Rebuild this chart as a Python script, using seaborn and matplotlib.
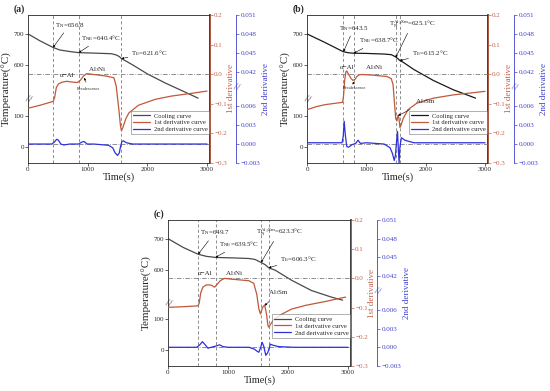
import numpy as np
import matplotlib
matplotlib.use("Agg")
import matplotlib.pyplot as plt
import matplotlib.transforms as mtransforms
import seaborn as sns

sns.set_theme(style="ticks")
plt.rcParams['font.family'] = ['Liberation Serif', 'DejaVu Serif']
plt.rcParams['mathtext.fontset'] = 'stix'

# ---------------- data ----------------
# (a)
a_cool_t = [0, 200, 420, 530, 700, 850, 1100, 1400, 1480, 1530, 1566, 1620, 1750, 2000, 2300, 2600, 2850]
a_cool_T = [700, 678, 657, 649, 644, 640.4, 639, 637, 633, 628, 621.6, 616, 602, 573, 544, 518, 496]
a_d1_t = [0, 200, 420, 445, 475, 510, 570, 650, 760, 830, 880, 930, 985, 1100, 1300, 1440,
          1478, 1522, 1550, 1566, 1590, 1640, 1690, 1850, 2130, 2400, 2730, 3000]
a_d1 = [-0.115, -0.105, -0.092, -0.08, -0.045, -0.033, -0.027, -0.024, -0.027, -0.028, -0.02,
        -0.006, 0.002, -0.001, -0.006, -0.012, -0.04, -0.118, -0.175, -0.191, -0.18, -0.15,
        -0.131, -0.105, -0.085, -0.074, -0.065, -0.057]
a_d2_t = [0, 400, 440, 480, 510, 550, 600, 700, 850, 900, 940, 990, 1100, 1350, 1420, 1460,
          1500, 1530, 1555, 1575, 1600, 1650, 1750, 2000, 3000]
a_d2 = [0.0, 0.0, 0.0003, 0.00075, 0.0006, 0.0, -0.00015, 0.0, 0.0, 0.0003, 0.0004, 0.0, 0.0,
        -0.0002, -0.0006, -0.0014, -0.0018, -0.0014, -0.0002, 0.0004, 0.0005, 0.0002, 0.0, 0.0, 0.0]
a_event_t = [420, 850, 1566]
a_event_T = [656.8, 640.4, 621.6]
a_event_lab = [r'T$_{\rm N}$=656.8', r'T$_{\rm NE}$=640.4°C', r'T$_{\rm E}$=621.6°C']

# (b)
b_cool_t = [0, 300, 610, 700, 786, 1000, 1300, 1420, 1494, 1540, 1566, 1620, 1800, 2130, 2460, 2840]
b_cool_T = [700, 673, 643.5, 640, 638.7, 638, 636, 634, 627, 620, 615.2, 610, 587, 552, 523, 496]
b_d1_t = [0, 150, 300, 600, 615, 635, 655, 670, 700, 740, 775, 810, 840, 880, 930, 1100, 1350,
          1420, 1450, 1475, 1495, 1515, 1535, 1550, 1566, 1585, 1620, 1700, 1850, 2130, 2460, 3000]
b_d1 = [-0.12, -0.11, -0.103, -0.095, -0.075, -0.02, 0.008, 0.011, 0.0, -0.014, -0.021, -0.017,
        -0.008, -0.002, -0.001, -0.003, -0.008, -0.015, -0.035, -0.1, -0.15, -0.158, -0.138,
        -0.15, -0.18, -0.172, -0.15, -0.12, -0.098, -0.081, -0.07, -0.058]
b_d2_t = [0, 590, 610, 627, 645, 670, 700, 760, 820, 860, 900, 1000, 1300, 1400, 1440, 1470,
          1490, 1510, 1525, 1540, 1552, 1565, 1590, 1650, 1800, 3000]
b_d2 = [0.0002, 0.0002, 0.0012, 0.0036, 0.0015, -0.0004, -0.0005, -0.0001, 0.0001, 0.0006,
        0.0001, 0.0002, 0.0, -0.0006, -0.0015, -0.0026, -0.0018, 0.0005, 0.002, -0.001, -0.003,
        -0.0005, 0.001, 0.0006, 0.0002, 0.0002]
b_event_t = [615, 786, 1494, 1566]
b_event_T = [643.5, 638.7, 625.1, 615.2]
b_event_lab = [r'T$_{\rm N}$=643.5', r'T$_{\rm NE}$=638.7°C',
               r'T$_{\rm N}^{\rm Al_3Sm}$=625.1°C', r'T$_{\rm E}$=615.2°C']

# (c)
c_cool_t = [0, 250, 503, 640, 792, 1080, 1350, 1450, 1552, 1620, 1678, 1790, 2060, 2390, 2720, 2910]
c_cool_T = [700, 672, 649.7, 643, 639.5, 638, 636, 633, 623.3, 616, 606.3, 598, 566, 533, 512, 502]
c_d1_t = [0, 250, 500, 520, 545, 580, 640, 720, 776, 820, 870, 940, 1080, 1350, 1430, 1480,
          1515, 1541, 1575, 1611, 1640, 1665, 1677, 1700, 1760, 1900, 2060, 2300, 2600, 2960]
c_d1 = [-0.099, -0.097, -0.094, -0.085, -0.05, -0.03, -0.022, -0.023, -0.03, -0.02, -0.008,
        0.0, -0.003, -0.008, -0.017, -0.055, -0.105, -0.122, -0.1, -0.091, -0.12, -0.16, -0.167,
        -0.16, -0.142, -0.122, -0.105, -0.092, -0.08, -0.064]
c_d2_t = [0, 480, 530, 574, 620, 665, 720, 800, 858, 920, 1000, 1350, 1440, 1480, 1514, 1545,
          1568, 1595, 1630, 1665, 1705, 1760, 1850, 2100, 3000]
c_d2 = [0.0, 0.0, 0.0004, 0.0009, 0.0004, -0.00015, 0.0, 0.0002, 0.0004, 0.0001, 0.0, 0.0,
        -0.0003, -0.0006, -0.0008, 0.0, 0.0008, 0.0002, -0.0013, -0.0008, 0.0005, 0.0003,
        0.0001, 0.0, 0.0]
c_event_t = [503, 792, 1552, 1678]
c_event_T = [649.7, 639.5, 623.3, 606.3]
c_event_lab = [r'T$_{\rm N}$=649.7', r'T$_{\rm NE}$=639.5°C',
               r'T$_{\rm N}^{\rm Al_3Sm}$=623.3°C', r'T$_{\rm E}$=606.3°C']

temp_ticks = [0, 100, 600, 700]
d1_ticks = [-0.3, -0.2, -0.1, 0.0, 0.1, 0.2]
d2_ticks = [-0.003, 0.0, 0.003, 0.006, 0.042, 0.045, 0.048, 0.051]
legend_labels = ['Cooling curve', '1st derivative curve', '2nd derivative curve']

# ---------------- broken-axis helpers ----------------
T_SHIFT = 340      # upper temperature segment drawn 340 lower
D2_SHIFT = 0.0306  # upper 2nd-derivative segment drawn lower


def temp_pos(T):
    T = np.asarray(T, float)
    return np.where(T > 300, T - T_SHIFT, T)


def d2_pos(v):
    v = np.asarray(v, float)
    return np.where(v > 0.02, v - D2_SHIFT, v)


RED = '#c0583a'
RED_AX = '#c4604a'
BLUE = '#2f2fe0'
BLUE_AX = '#4040cc'
GRID = '#707070'

fig = plt.figure(figsize=(5.5, 3.91), dpi=100)


def draw_panel(rect, tag, cool_t, cool_T, d1_t, d1, d2_t, d2, ev_t, ev_T, ev_lab,
               ev_text, cool_color, phase_notes):
    ax = fig.add_axes(rect)
    ax2 = ax.twinx()
    ax3 = ax.twinx()
    ax3.spines['right'].set_position(('outward', 19))

    for t in ev_t:
        ax.axvline(t, color=GRID, ls=(0, (4, 3)), lw=0.55, zorder=1)
    ax2.axhline(0, color=GRID, ls=(0, (6, 2, 1, 2)), lw=0.55)
    ax3.axhline(0, color=GRID, ls=(0, (6, 2, 1, 2)), lw=0.55)

    sns.lineplot(x=cool_t, y=temp_pos(cool_T), ax=ax, color=cool_color, lw=0.9, sort=False)
    h1 = ax.get_lines()[-1]
    sns.lineplot(x=d1_t, y=d1, ax=ax2, color=RED, lw=0.9, sort=False)
    h2 = ax2.get_lines()[-1]
    sns.lineplot(x=d2_t, y=d2_pos(d2), ax=ax3, color=BLUE, lw=0.9, sort=False)
    h3 = ax3.get_lines()[-1]

    ax.set_xlim(0, 3050)
    ax.set_ylim(-50, 420)
    ax.set_yticks(temp_pos(temp_ticks))
    ax.set_yticklabels([str(v) for v in temp_ticks])
    ax.set_xticks([0, 1000, 2000, 3000])
    ax.set_xlabel('Time(s)', fontsize=7.5, labelpad=0)
    ax.set_ylabel('Temperature(°C)', fontsize=8, labelpad=1)

    ax2.set_ylim(-0.3, 0.2)
    ax2.set_yticks(d1_ticks)
    ax2.set_yticklabels([f'{v:.1f}'.replace('-', '\u2212') for v in d1_ticks])
    ax2.set_ylabel('1st derivative', fontsize=6.5, color=RED_AX, labelpad=0)

    ax3.set_ylim(-0.003, 0.051 - D2_SHIFT)
    ax3.set_yticks(d2_pos(d2_ticks))
    ax3.set_yticklabels([f'{v:.3f}'.replace('-', '\u2212') for v in d2_ticks])
    ax3.set_ylabel('2nd derivative', fontsize=6.5, color=BLUE_AX, labelpad=1)

    for a in (ax, ax2, ax3):
        a.tick_params(labelsize=5, length=2, width=0.5, pad=1)
    ax.spines['left'].set_linewidth(0.6)
    ax.spines['bottom'].set_linewidth(0.6)
    ax.spines['top'].set_linewidth(0.6)
    ax2.spines['right'].set_color(RED_AX)
    ax2.spines['right'].set_linewidth(0.6)
    ax2.tick_params(axis='y', colors=RED_AX)
    ax3.spines['right'].set_color(BLUE_AX)
    ax3.spines['right'].set_linewidth(0.6)
    ax3.tick_params(axis='y', colors=BLUE_AX)
    for a in (ax2, ax3):
        for s in ('left', 'top', 'bottom'):
            a.spines[s].set_visible(False)

    # axis-break marks
    ax.text(0, 0.43, '//', transform=ax.transAxes, ha='center', va='center',
            fontsize=7, rotation=-20, clip_on=False)
    off = mtransforms.offset_copy(ax3.transAxes, fig=fig, x=19, units='points')
    ax3.text(1, 0.51, '//', transform=off, ha='center', va='center', fontsize=7,
             color=BLUE_AX, rotation=-20, clip_on=False)

    ax.text(-0.08, 1.01, tag, transform=ax.transAxes, fontsize=7, fontweight='bold',
            va='bottom', ha='left')

    for t, T, lab, xy in zip(ev_t, ev_T, ev_lab, ev_text):
        ax3.annotate(lab, xy=(t, temp_pos(T)), xycoords=ax.transData, xytext=xy,
                     textcoords=ax.transData, fontsize=5, ha='left', va='center',
                     arrowprops=dict(arrowstyle='-|>', lw=0.4, color='black',
                                     mutation_scale=3, shrinkA=0, shrinkB=0))
    for text, xy, target, fs in phase_notes:
        if target is None:
            ax3.text(xy[0], xy[1], text, transform=ax.transData, fontsize=fs,
                     ha='center', va='center')
        else:
            ax3.annotate(text, xy=target, xycoords=ax2.transData, xytext=xy,
                         textcoords=ax.transData, fontsize=fs, ha='center', va='center',
                         arrowprops=dict(arrowstyle='-|>', lw=0.4, color='black',
                                         mutation_scale=3, shrinkA=1, shrinkB=0))

    leg = ax3.legend([h1, h2, h3], legend_labels, loc='lower right',
                     bbox_to_anchor=(1.0, 0.19), fontsize=4.7, frameon=True, fancybox=False,
                     handlelength=2.6, labelspacing=0.2, borderpad=0.3, handletextpad=0.5,
                     borderaxespad=0.1)
    leg.get_frame().set_linewidth(0.4)
    leg.get_frame().set_edgecolor('#555555')
    return ax


draw_panel([28 / 550, 228 / 391, 182 / 550, 148 / 391], '(a)',
           a_cool_t, a_cool_T, a_d1_t, a_d1, a_d2_t, a_d2,
           a_event_t, a_event_T, a_event_lab,
           [(445, 388), (890, 347), (1730, 299)], '#4a4a4a',
           [('\u03b1\u2212Al', (650, 228), None, 5),
            ('Al$_3$Ni', (1160, 246), None, 5),
            ('Recalescence', (1020, 186), (940, -0.012), 3.2)])

draw_panel([307 / 550, 228 / 391, 181 / 550, 148 / 391], '(b)',
           b_cool_t, b_cool_T, b_d1_t, b_d1, b_d2_t, b_d2,
           b_event_t, b_event_T, b_event_lab,
           [(540, 378), (878, 340), (1376, 391), (1765, 299)], '#1a1a1a',
           [('\u03b1\u2212Al', (680, 252), None, 5),
            ('Al$_3$Ni', (1140, 252), None, 5),
            ('Recalescence', (800, 188), (775, -0.025), 3.2),
            ('Al$_3$Sm', (1990, 144), (1535, -0.14), 5)])

draw_panel([168 / 550, 25 / 391, 183 / 550, 146 / 391], '(c)',
           c_cool_t, c_cool_T, c_d1_t, c_d1, c_d2_t, c_d2,
           c_event_t, c_event_T, c_event_lab,
           [(525, 378), (852, 343), (1459, 381), (1869, 294)], '#4a4a4a',
           [('\u03b1\u2212Al', (620, 249), None, 5),
            ('Al$_3$Ni', (1100, 247), None, 5),
            ('Al$_3$Sm', (1840, 185), (1611, -0.093), 5)])

fig.savefig('out.png', dpi=100)
